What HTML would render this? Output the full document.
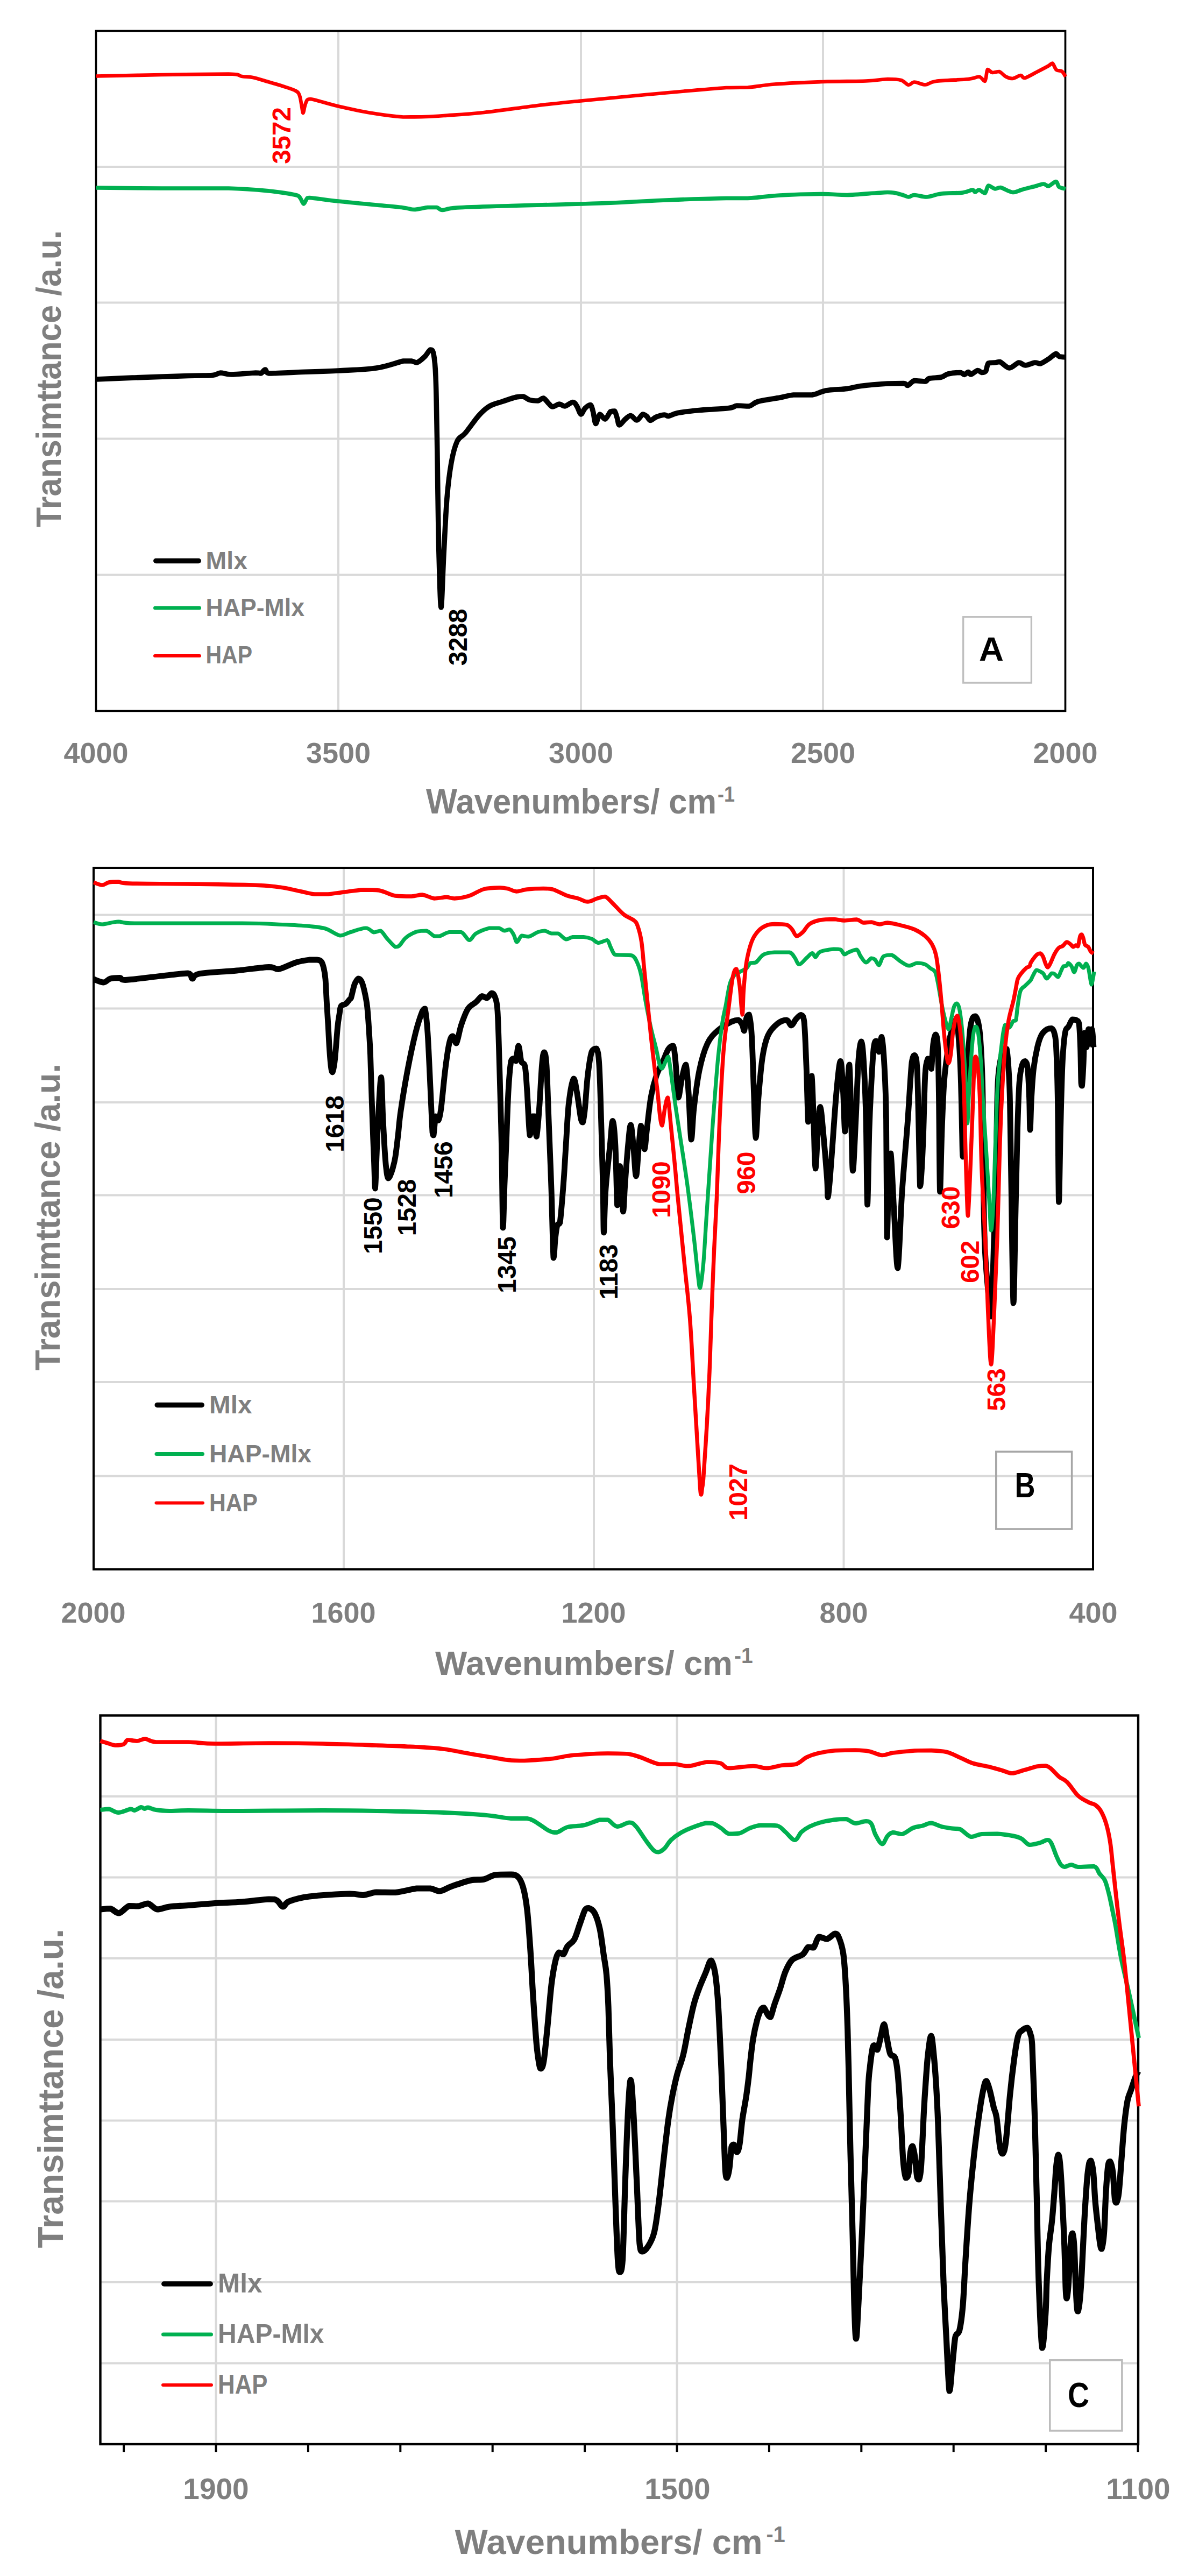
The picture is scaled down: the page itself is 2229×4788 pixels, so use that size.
<!DOCTYPE html>
<html><head><meta charset="utf-8"><title>FTIR spectra</title>
<style>html,body{margin:0;padding:0;background:#fff}svg{display:block}</style>
</head><body>
<svg width="2229" height="4788" viewBox="0 0 2229 4788" font-family='"Liberation Sans", Arial, sans-serif' font-weight="bold">
<line x1="629" y1="57.5" x2="629" y2="1321.5" stroke="#d9d9d9" stroke-width="4"/>
<line x1="1080" y1="57.5" x2="1080" y2="1321.5" stroke="#d9d9d9" stroke-width="4"/>
<line x1="1530" y1="57.5" x2="1530" y2="1321.5" stroke="#d9d9d9" stroke-width="4"/>
<line x1="178.5" y1="310" x2="1980.5" y2="310" stroke="#d9d9d9" stroke-width="4"/>
<line x1="178.5" y1="562.5" x2="1980.5" y2="562.5" stroke="#d9d9d9" stroke-width="4"/>
<line x1="178.5" y1="815.5" x2="1980.5" y2="815.5" stroke="#d9d9d9" stroke-width="4"/>
<line x1="178.5" y1="1068.5" x2="1980.5" y2="1068.5" stroke="#d9d9d9" stroke-width="4"/>
<rect x="178.5" y="57.5" width="1802" height="1264" fill="none" stroke="#000" stroke-width="3.7"/>
<path d="M178.5 705 C190.7 704.5 220.8 703.1 250 702 C279.2 700.9 325.4 699.3 350 698.5 C374.6 697.7 384.8 698.4 395 697.5 C405.2 696.6 404.1 693.3 410 693 C415.9 693 418.9 696 430 696 C441.1 696 465.6 693.3 475 693 C484.4 693 481.9 694 485 694 C488.1 693 490.4 687 493 687 C495.6 687 493 693.1 500 694 C509.7 694 528.1 692.9 550 692 C571.9 691.1 603.5 690.4 629 689 C654.5 687.6 679.4 687.1 700 684 C720.6 680.9 739 673.2 750 671 C761 671 760.8 671 765 671 C769.2 671.5 770.8 674 775 674 C779.2 672.6 785.8 666.6 790 662.5 C794.2 658.4 797.3 650.9 800 650 C802.7 650 804.3 650 806 657.5 C807.7 666 808.9 673.2 810 700 C811.1 726.8 811.8 777.6 812.5 815 C813.2 852.4 813.4 883.5 814 920 C814.6 956.5 815 994.5 816 1030 C817 1065.5 818.5 1129 820 1129 C821.5 1129 823.1 1064.7 825 1030 C826.9 995.3 828.6 953.9 831 925 C833.4 896.1 835.8 877.9 839 860 C842.2 842.1 845.6 829.4 850 820 C854.4 810.6 858.2 813.1 865 805 C871.8 796.9 882.4 781 890 772.5 C897.6 764 902.4 759.5 910 755 C917.6 750.5 926.5 748.9 935 746 C943.5 743.1 953.6 739.5 960 738 C966.4 737 968.2 737 972.5 737 C976.8 737.9 980.3 742.1 985 743.5 C989.7 744.9 995.8 745 1000 745 C1004.2 744.4 1006.6 740 1010 740 C1013.4 740.9 1017 747.3 1020 750 C1023 752.7 1024.1 755.8 1027.5 756 C1030.9 756 1036.2 751.2 1040 751 C1043.8 751 1045.8 755 1050 755 C1054.2 754.4 1061.2 747.5 1065 747.5 C1068.8 747.5 1070 751.2 1072.5 755 C1075 758.8 1077.5 769.3 1080 770 C1082.5 770 1084.5 762 1087.5 759 C1090.5 756 1095 752.5 1097.5 752.5 C1100 753.5 1100.8 759 1102.5 765 C1104.2 771 1105.4 786.6 1107.5 787.5 C1109.6 787.5 1112 771.4 1115 770 C1118 770 1121.6 779 1125 779 C1128.4 778.1 1132 767.5 1135 765 C1138 764 1140.4 764 1142.5 764 C1144.6 766.1 1146 773.1 1147.5 777.5 C1149 781.9 1149 789.7 1151.5 790 C1154 790 1158.9 782 1162.5 779 C1166.1 776 1168.8 772.5 1172.5 772.5 C1176.2 772.8 1180.2 781 1184 781 C1187.8 780.6 1191.9 771.2 1195 770 C1198.1 770 1200.1 772 1202.5 774 C1204.9 776 1206 781.3 1209 781.5 C1212 781.5 1215.6 776.8 1220 775 C1224.4 773.2 1231.2 771.3 1235 771 C1238.8 771 1238.2 773.5 1242.5 773.5 C1246.8 772.9 1250.2 769.4 1260 767.5 C1269.8 765.6 1283.8 764 1300 762.5 C1316.2 761 1343.1 759.9 1355 758.5 C1366.9 757.1 1363.6 754.6 1370 754 C1376.4 754 1385.7 755 1392.5 755 C1399.3 753.6 1400.2 748.7 1410 746 C1419.8 743.3 1439 741 1450 739 C1461 737 1464.8 734.9 1475 734 C1485.2 734 1499.8 734 1510 734 C1520.2 732.6 1524 728 1535 726 C1546 724 1564 723.9 1575 722.5 C1586 721.1 1587.2 719.1 1600 717.5 C1612.8 715.9 1636.4 713.9 1650 713 C1663.6 712.5 1673.6 712.5 1680 712.5 C1686.4 713.1 1684.1 716.5 1687.5 716.5 C1690.9 715.6 1694.5 708.8 1700 707.5 C1705.5 707.5 1715.3 709 1720 709 C1724.7 708.3 1722.4 704.9 1727.5 703.5 C1732.6 702.1 1744 702.4 1750 701 C1756 699.6 1756.5 696.4 1762.5 695 C1768.5 693.6 1779.9 692.5 1785 692.5 C1790.1 692.8 1790 696.5 1792.5 696.5 C1795 696.3 1797.9 691.6 1800 691.5 C1802.1 691.5 1802 696 1805 696 C1808 695.5 1814.1 689.1 1817.5 688.5 C1820.9 688.5 1822.5 692.2 1825 692.5 C1827.5 692.5 1830.4 692.5 1832.5 690 C1834.6 687 1834.7 677.7 1837.5 675 C1840.3 674 1845.3 674.4 1849 674 C1852.7 673.6 1854.3 672.5 1859 672.5 C1863.7 674.2 1870.5 683.7 1876.5 684 C1882.5 684 1888.9 674.9 1894 674 C1899.1 674 1901.4 679 1906.5 679 C1911.6 679 1919.3 674.5 1924 674 C1928.7 674 1929.8 676 1934 676 C1938.2 674.9 1944.1 670.6 1949 667.5 C1953.9 664.4 1959.6 658.4 1963 657.5 C1966.4 657.5 1965.9 661.4 1969 662.5 C1972.1 663.6 1979 663.7 1981 664" fill="none" stroke="#000" stroke-width="9.6" stroke-linejoin="round" stroke-linecap="butt"/>
<path d="M178.5 349 C199.2 349.2 258.1 349.8 300 350 C341.9 350 391 350 425 350 C459 350.9 478.8 352.9 500 355 C521.2 357.1 540.1 360.3 550 362.5 C558 364.7 555.5 365.2 558 368 C560.5 370.8 562.5 378.7 564.5 379 C566.5 379 568.2 372 570 370 C571.8 368 570 367.5 575 367.5 C585 368.2 607.8 371.7 629 374 C650.2 376.3 679.5 379 700 381 C720.5 383 737.6 384.6 749.5 386 C761.4 387.4 762.3 389.5 770 389.5 C777.7 389.4 787.9 386.2 795 385.5 C802.1 385.5 807.3 385.5 812 385.5 C816.7 386.4 816 390.4 822.5 390.5 C829 390.5 828.3 387.4 850 386 C871.7 384.6 910.9 383.7 950 382.5 C989.1 381.3 1046 380 1080 379 C1114 378 1121.1 377.8 1150 376.5 C1178.9 375.2 1216 372.9 1250 371.5 C1284 370.1 1326.2 369 1350 368.5 C1373.8 368.5 1373 368.5 1390 368.5 C1407 367.6 1426.4 364.4 1450 363 C1473.6 361.6 1507.8 360.6 1529 360.5 C1550.2 360.5 1554.4 362.5 1575 362.5 C1595.6 362 1633 357.7 1650 357.5 C1667 357.5 1668.4 360.1 1675 361.5 C1681.6 362.9 1684.8 365.8 1689 366 C1693.2 366 1694.3 362.5 1700 362.5 C1705.7 362.5 1714 366 1722.5 366 C1731 365.6 1738.5 361.4 1750 360 C1761.5 358.6 1780.2 359.2 1790 358 C1799.8 356.8 1803.6 353.2 1807.5 353 C1811.4 353 1810.9 357 1813 357 C1815.1 357 1816.9 353 1820 353 C1823.1 353.3 1828 359 1831 359 C1834 357.6 1834.3 346.4 1837.5 345 C1840.7 345 1846.2 350.4 1850 351 C1853.8 351 1854.5 348.5 1860 348.5 C1865.5 349.6 1875.7 356.8 1882.5 357.5 C1889.3 357.5 1892.8 354.5 1900 352.5 C1907.2 350.5 1918.2 347.8 1925 346 C1931.8 344.2 1935.9 342 1940 342 C1944.1 342 1945.1 346 1949 346 C1952.9 345.2 1959.6 337.5 1963 337.5 C1966.4 337.8 1965.9 345.2 1969 347.5 C1972.1 349.8 1979 350.4 1981 351" fill="none" stroke="#00b050" stroke-width="7.6" stroke-linejoin="round" stroke-linecap="butt"/>
<path d="M178.5 141.5 C199.2 141.1 258.1 139.7 300 139 C341.9 138.3 399.5 137.5 425 137.5 C450 138 442.4 140.9 450 142 C457.6 143.1 461.5 142.2 470 144 C478.5 145.8 490.6 149.8 500 152.5 C509.4 155.2 516.5 157.2 525 160 C533.5 162.8 544.6 165.9 550 169 C555.4 172.1 555.1 173.1 557 178 C558.9 182.9 559.9 192.6 561 198 C562.1 203.4 562.5 210 563.5 210 C564.5 209.7 565.7 200.1 567 196 C568.3 191.9 569.3 188 571 186 C572.7 184 573.8 184 577 184 C580.2 184.2 581.2 184.7 590 187 C598.8 189.3 612 193.6 629 197.5 C646 201.4 669.5 206.6 690 210 C710.5 213.4 732.5 216.3 749.5 217.5 C766.5 217.5 777.2 217.4 790 217 C802.8 216.6 806.3 216.4 825 215 C843.7 213.6 870.2 212.2 900 209 C929.8 205.8 969.4 199.7 1000 196 C1030.6 192.3 1046 190.9 1080 187.5 C1114 184.1 1154.1 180.2 1200 176 C1245.9 171.8 1317.7 165.3 1350 163 C1382.3 162.5 1374.7 163 1390 162.5 C1405.3 161.4 1416.4 158.3 1440 156.5 C1463.6 154.7 1500.1 153 1529 152 C1557.9 151 1589.4 151.3 1610 150.5 C1630.6 149.7 1639 147.3 1650 147 C1661 147 1668.4 147.1 1675 149 C1681.6 150.9 1684.8 157.4 1689 158 C1693.2 158 1694.7 152.6 1700 152.5 C1705.3 152.5 1713.2 157.5 1720 157.5 C1726.8 157.2 1726.4 152.8 1740 151 C1753.6 149.2 1786.4 148.4 1800 147 C1813.6 145.6 1814.7 142.5 1820 142.5 C1825.3 143.2 1828.3 151 1831 151 C1833.7 148.7 1833.6 131.7 1836 129 C1838.4 129 1841.3 134.3 1845 135 C1848.7 135 1853.2 133 1857.5 133 C1861.8 134.3 1865.8 140.3 1870 142.5 C1874.2 144.7 1877.8 146 1882.5 146 C1887.2 145.6 1893.7 140.2 1897.5 140 C1901.3 140 1899.5 145 1905 145 C1910.5 143.7 1922.5 136.3 1930 132.5 C1937.5 128.7 1944.5 125 1949 122.5 C1953.5 120 1954 117.5 1956.5 117.5 C1959 118.8 1961 127.5 1964 130 C1967 132.5 1971.1 130.4 1974 132.5 C1976.9 134.6 1979.8 140.8 1981 142.5" fill="none" stroke="#ff0000" stroke-width="6.7" stroke-linejoin="round" stroke-linecap="butt"/>
<text transform="translate(540 252) rotate(-90)" text-anchor="middle" font-size="47.5" fill="#ff0000">3572</text>
<text transform="translate(867.5 1184.5) rotate(-90)" text-anchor="middle" font-size="47.5" fill="#000">3288</text>
<line x1="289.8" y1="1042.5" x2="369.2" y2="1042.5" stroke="#000" stroke-width="9.5" stroke-linecap="round"/>
<text x="382.5" y="1057.5" text-anchor="start" font-size="47" fill="#7f7f7f" textLength="77.5" lengthAdjust="spacingAndGlyphs">Mlx</text>
<line x1="288.5" y1="1130" x2="370.5" y2="1130" stroke="#00b050" stroke-width="7" stroke-linecap="round"/>
<text x="382.5" y="1145" text-anchor="start" font-size="47" fill="#7f7f7f" textLength="183.5" lengthAdjust="spacingAndGlyphs">HAP-Mlx</text>
<line x1="288" y1="1219" x2="371" y2="1219" stroke="#ff0000" stroke-width="6" stroke-linecap="round"/>
<text x="382.5" y="1232.5" text-anchor="start" font-size="47" fill="#7f7f7f" textLength="86.5" lengthAdjust="spacingAndGlyphs">HAP</text>
<text x="178.5" y="1417.5" text-anchor="middle" font-size="54" fill="#7f7f7f">4000</text>
<text x="629" y="1417.5" text-anchor="middle" font-size="54" fill="#7f7f7f">3500</text>
<text x="1080" y="1417.5" text-anchor="middle" font-size="54" fill="#7f7f7f">3000</text>
<text x="1530" y="1417.5" text-anchor="middle" font-size="54" fill="#7f7f7f">2500</text>
<text x="1980.5" y="1417.5" text-anchor="middle" font-size="54" fill="#7f7f7f">2000</text>
<text x="792" y="1512" font-size="64" fill="#7f7f7f" textLength="540" lengthAdjust="spacingAndGlyphs">Wavenumbers/ cm</text>
<text x="1334" y="1490" font-size="41" fill="#7f7f7f" textLength="32" lengthAdjust="spacingAndGlyphs">-1</text>
<text transform="translate(113.2 980) rotate(-90)" font-size="65" fill="#7f7f7f" textLength="552" lengthAdjust="spacingAndGlyphs">Transimttance /a.u.</text>
<rect x="1790.7" y="1146.7" width="126.7" height="122.4" fill="#fff" stroke="#bfbfbf" stroke-width="3.3"/>
<text x="1843" y="1227.7" text-anchor="middle" font-size="63.5" fill="#000">A</text>
<line x1="639" y1="1613" x2="639" y2="2917" stroke="#d9d9d9" stroke-width="4"/>
<line x1="1104" y1="1613" x2="1104" y2="2917" stroke="#d9d9d9" stroke-width="4"/>
<line x1="1568.5" y1="1613" x2="1568.5" y2="2917" stroke="#d9d9d9" stroke-width="4"/>
<line x1="174" y1="1700.5" x2="2032" y2="1700.5" stroke="#d9d9d9" stroke-width="4"/>
<line x1="174" y1="1874.5" x2="2032" y2="1874.5" stroke="#d9d9d9" stroke-width="4"/>
<line x1="174" y1="2049" x2="2032" y2="2049" stroke="#d9d9d9" stroke-width="4"/>
<line x1="174" y1="2221.5" x2="2032" y2="2221.5" stroke="#d9d9d9" stroke-width="4"/>
<line x1="174" y1="2396" x2="2032" y2="2396" stroke="#d9d9d9" stroke-width="4"/>
<line x1="174" y1="2569" x2="2032" y2="2569" stroke="#d9d9d9" stroke-width="4"/>
<line x1="174" y1="2743.5" x2="2032" y2="2743.5" stroke="#d9d9d9" stroke-width="4"/>
<rect x="174" y="1613" width="1858" height="1304" fill="none" stroke="#000" stroke-width="4"/>
<path d="M174 1820 C177.1 1821 187.2 1826 192.5 1826 C197.8 1825.8 199.9 1820.4 205 1819 C210.1 1817.6 217.8 1817.5 222.5 1817.5 C227.2 1817.9 222.5 1821.5 232.5 1821.5 C245.7 1820.9 280 1816.1 300 1814 C320 1811.9 340.2 1809 350 1809 C357.5 1809.8 354.1 1818.8 357.5 1819 C360.9 1819 357.5 1812.5 370 1810 C384 1807.5 417.9 1806.1 440 1804 C462.1 1801.9 486.8 1797.9 500 1797.5 C513.2 1797.5 509 1801.5 517.5 1801.5 C526 1800.1 540.2 1792 550 1789 C559.8 1786 568.2 1784.8 575 1784 C581.8 1784 586.2 1784 590 1784 C593.8 1784.6 595.5 1784.8 597.5 1787.5 C599.5 1790.2 600.7 1794.5 602 1800 C603.3 1805.5 604.1 1809 605 1820 C605.9 1831 606.6 1850.5 607.5 1865 C608.4 1879.5 609.1 1890.5 610 1905 C610.9 1919.5 611.6 1937.2 612.5 1950 C613.4 1962.8 614.1 1972.7 615 1980 C615.9 1987.3 616.7 1993 618 1993 C619.3 1991.3 620.9 1984.1 622.5 1970 C624.1 1955.9 626.1 1924.5 627.5 1910 C628.9 1895.5 629.9 1891.8 631 1885 C632.1 1878.2 632 1873.2 634 1870 C636 1866.8 639.8 1868.1 642.5 1866 C645.2 1863.9 648.3 1859.4 650 1857.5 C651.7 1855.6 651.2 1857.5 652.5 1855 C653.8 1851.2 656.2 1839.7 657.5 1835 C658.8 1830.3 658.6 1830.2 660 1827.5 C661.4 1824.8 664 1819.6 666 1819 C668 1819 670.1 1820.4 672 1824 C673.9 1827.6 675.2 1832.2 677 1840 C678.8 1847.8 681 1857.2 682.5 1870 C684 1882.8 685 1899.7 686 1915 C687 1930.3 687.6 1938.8 688.5 1960 C689.4 1981.2 690.1 2014.5 691 2040 C691.9 2065.5 692.7 2089.6 693.5 2110 C694.3 2130.4 694.8 2143.2 695.5 2160 C696.2 2176.8 696.7 2209 697.5 2209 C698.3 2207.3 699.1 2171.9 700 2150 C700.9 2128.1 701.6 2105.1 703 2080 C704.4 2054.9 707 2002.5 708.5 2002.5 C710 2002.5 710.7 2054.9 712 2080 C713.3 2105.1 714.8 2133 716 2150 C717.2 2167 718.1 2173.2 719 2180 C719.9 2186.8 720.5 2189 721.5 2190 C722.5 2190 723.6 2189.1 725 2186 C726.4 2182.9 728.3 2178.1 730 2172 C731.7 2165.9 733.3 2160.5 735 2150 C736.7 2139.5 738.3 2124.4 740 2110 C741.7 2095.6 742 2085.4 745 2065 C748 2044.6 752.8 2014.7 757.5 1990 C762.2 1965.3 767.8 1938.7 772.5 1920 C777.2 1901.3 782 1887.7 785 1880 C788 1875 788.3 1875 790 1875 C791.7 1881.8 793.3 1895.3 795 1920 C796.7 1944.7 798.5 1988.5 800 2020 C801.5 2051.4 803 2089.7 804 2105 C805 2110 805 2110 806 2110 C807 2104.9 808.5 2079.7 810 2075 C811.5 2075 813.3 2082.5 815 2082.5 C816.7 2079.9 817.9 2075.7 820 2060 C822.1 2044.3 825 2010.4 827.5 1990 C830 1969.6 832.6 1950.9 835 1940 C837.4 1929.1 839.2 1926.2 841.5 1926 C843.8 1926 845.8 1939 848.5 1939 C851.2 1935.4 853.8 1915.9 857.5 1905 C861.2 1894.1 865.3 1882.2 870 1875 C874.7 1867.8 880.6 1866.5 885 1862.5 C889.4 1858.5 892.6 1852.8 896 1851.5 C899.4 1851.5 901.9 1855 905 1855 C908.1 1854.1 911.5 1846.4 914 1846 C916.5 1846 918.1 1846.7 920 1852.5 C921.9 1858.3 923.6 1858.3 925 1880 C926.4 1901.7 927.2 1937.5 928.5 1980 C929.8 2022.5 931.4 2078.7 932.5 2130 C933.6 2181.3 934.1 2270.1 935 2282 C935.9 2282 937 2225.8 938 2200 C939 2174.2 939.8 2158.9 941 2130 C942.2 2101.1 943.5 2056.8 945 2030 C946.5 2003.2 948.3 1983.1 950 1972.5 C951.7 1967.5 953.5 1967.6 955 1967.5 C956.5 1967.5 957.5 1972 959 1972 C960.5 1968 962.3 1944 964 1944 C965.7 1944.1 967 1966 969 1972.5 C971 1979 974.1 1972.7 976 1982.5 C977.9 1992.3 978.5 2008.3 980 2030 C981.5 2051.7 983.3 2102.3 985 2110 C986.7 2110 988.5 2080.9 990 2075 C991.5 2075 992.7 2075 994 2075 C995.3 2081.4 996.1 2112.5 997.5 2112.5 C998.9 2109.9 1000.8 2082.5 1002.5 2060 C1004.2 2037.5 1006 1997.7 1007.5 1980 C1009 1962.3 1010.1 1956 1011.5 1956 C1012.9 1956 1014.6 1958.9 1016 1980 C1017.4 2001.1 1018.5 2040.9 1020 2080 C1021.5 2119.1 1023.5 2166.1 1025 2210 C1026.5 2253.9 1027.7 2322.7 1029 2338 C1030.3 2338 1031.3 2310.3 1032.5 2300 C1033.7 2289.7 1034.6 2282.2 1036 2277.5 C1037.4 2272.8 1039 2277.5 1041 2272.5 C1043 2259.3 1045.6 2224.2 1047.5 2200 C1049.4 2175.8 1050.3 2155.5 1052 2130 C1053.7 2104.5 1055 2071.2 1057.5 2050 C1060 2028.8 1064 2008.4 1066.5 2005 C1069 2005 1070.2 2017.2 1072.5 2030 C1074.8 2042.8 1078.1 2070.5 1080 2080 C1081.9 2086 1082.2 2086 1083.5 2086 C1084.8 2082.6 1086 2074.6 1087.5 2060 C1089 2045.4 1090.4 2017.8 1092.5 2000 C1094.6 1982.2 1097.2 1963.7 1100 1955 C1102.8 1949 1106.6 1949 1109 1949 C1111.4 1953.2 1112.6 1957.7 1114 1980 C1115.4 2002.3 1116.3 2041 1117.5 2080 C1118.7 2119 1120.2 2173.6 1121 2209.5 C1121.8 2245.4 1121.7 2290.9 1122.5 2291 C1123.3 2291 1124 2237.4 1126 2210 C1128 2182.6 1131.8 2151.5 1134 2130 C1136.2 2108.5 1137.3 2083.5 1139 2083.5 C1140.7 2083.5 1142.6 2103.4 1144 2130 C1145.4 2156.6 1146.5 2228.1 1147.5 2240 C1148.5 2240 1149.2 2212.3 1150 2200 C1150.8 2187.7 1151.7 2167.5 1152.5 2167.5 C1153.3 2167.5 1154 2185.6 1155 2200 C1156 2214.4 1157.3 2252 1158.5 2252 C1159.7 2252 1160.5 2220.7 1162 2200 C1163.5 2179.3 1165.7 2148.5 1167.5 2130 C1169.3 2111.5 1170.8 2091 1172.5 2091 C1174.2 2091 1175.8 2113.8 1177.5 2130 C1179.2 2146.2 1180.8 2186 1182.5 2186 C1184.2 2186 1186 2145.9 1187.5 2130 C1189 2114.1 1190.2 2095.9 1191.5 2092.5 C1192.8 2092.5 1193.8 2102.6 1195 2110 C1196.2 2117.4 1197.2 2136 1198.5 2136 C1199.8 2134.3 1200.5 2116.3 1202.5 2100 C1204.5 2083.7 1207 2057 1210 2040 C1213 2023 1216.2 2011.5 1220 2000 C1223.8 1988.5 1228.7 1981 1232.5 1972.5 C1236.3 1964 1239.3 1954.8 1242.5 1950 C1245.7 1945.2 1249.2 1944 1251.5 1944 C1253.8 1948.2 1254.4 1958.7 1256 1975 C1257.6 1991.3 1259 2034.9 1261 2040 C1263 2040 1265.1 2015.4 1267.5 2005 C1269.9 1994.6 1272.9 1979 1275 1979 C1277.1 1983.2 1278.3 2006.4 1280 2030 C1281.7 2053.6 1283.3 2112.9 1285 2118 C1286.7 2118 1287.5 2081.8 1290 2060 C1292.5 2038.2 1295.8 2010.4 1300 1990 C1304.2 1969.6 1309 1952.8 1315 1940 C1321 1927.2 1327.3 1922 1335 1915 C1342.7 1908 1353.6 1902.2 1360 1899 C1366.4 1896 1369.1 1896 1372.5 1896 C1375.9 1897 1378.1 1901.6 1380 1905 C1381.9 1908.4 1382.2 1916 1383.5 1916 C1384.8 1914 1386 1898.1 1387.5 1893 C1389 1887.9 1390.8 1886 1392.5 1886 C1394.2 1891.4 1396 1900.5 1397.5 1925 C1399 1949.5 1400.2 1997.7 1401.5 2030 C1402.8 2062.3 1403.6 2113.3 1405 2115 C1406.4 2115 1407.9 2065.5 1410 2040 C1412.1 2014.5 1414.5 1984.5 1417.5 1965 C1420.5 1945.5 1422.8 1935.5 1427.5 1925 C1432.2 1914.5 1439 1907.9 1445 1903 C1451 1898.1 1458.1 1896 1462.5 1896 C1466.9 1896.5 1468 1906 1471 1906 C1474 1905.7 1476.9 1897.3 1480 1894 C1483.1 1890.7 1486.5 1886.5 1489 1886.5 C1491.5 1887.3 1493.3 1886.5 1495 1899 C1496.7 1914.9 1497.7 1948.4 1499 1980 C1500.3 2011.6 1501.5 2074.8 1502.5 2085 C1503.5 2085 1503.9 2054.4 1505 2040 C1506.1 2025.5 1507.7 2000 1509 2000 C1510.3 2006.8 1511.3 2050.8 1512.5 2080 C1513.7 2109.2 1514.6 2170.3 1516 2172 C1517.4 2172 1519.5 2109.5 1521 2090 C1522.5 2070.5 1523.5 2057.5 1525 2057.5 C1526.5 2059.2 1527.9 2077.5 1530 2100 C1532.1 2122.5 1536 2168.8 1537.5 2190 C1539 2211.2 1538.1 2225 1539 2225 C1539.9 2225 1541.6 2206.2 1543 2190 C1544.4 2173.8 1545.5 2157.2 1547.5 2130 C1549.5 2102.8 1552.5 2056.8 1555 2030 C1557.5 2003.2 1560.4 1972.5 1562.5 1972.5 C1564.6 1972.5 1566.1 2007.8 1567.5 2030 C1568.9 2052.2 1569.7 2103 1571 2103 C1572.3 2103 1573.6 2051.1 1575 2030 C1576.4 2008.9 1577.7 1979 1579 1979 C1580.3 1987.5 1581.4 2046.5 1582.5 2080 C1583.6 2113.5 1584.1 2176 1585.5 2176 C1586.9 2176 1589.2 2115 1591 2080 C1592.8 2045 1594.2 1994.5 1596 1970 C1597.8 1945.5 1599.8 1936 1601.5 1936 C1603.2 1937.7 1604.6 1955.5 1606 1980 C1607.4 2004.5 1608.9 2036 1610 2080 C1611.1 2124 1611.5 2235.6 1612.5 2239 C1613.5 2239 1614.9 2135.5 1616 2100 C1617.1 2064.5 1617.6 2055.5 1619 2030 C1620.4 2004.5 1622.3 1966.2 1624 1950 C1625.7 1935 1627.3 1935 1629 1935 C1630.7 1935.8 1632.3 1955 1634 1955 C1635.7 1953.7 1637.3 1927.5 1639 1927.5 C1640.7 1931.8 1642.6 1954.1 1644 1980 C1645.4 2005.9 1646.7 2025.6 1647.5 2080 C1648.3 2134.4 1648.2 2279.6 1649 2300 C1649.8 2300 1650.8 2226.5 1652 2200 C1653.2 2173.5 1654.3 2144 1656 2144 C1657.7 2152.5 1659.8 2213.8 1662 2250 C1664.2 2286.2 1666.5 2357 1669 2357 C1671.5 2351.1 1673.9 2260.4 1677 2215 C1680.1 2169.6 1683.9 2130.8 1687 2090 C1690.1 2049.2 1692.7 1996.8 1695 1975 C1697.3 1961.5 1698.8 1961.5 1700.5 1961.5 C1702.2 1963.5 1703.7 1963 1705 1986.5 C1706.3 2010 1707.1 2062.9 1708 2100 C1708.9 2137.1 1709.6 2192.6 1710.5 2205 C1711.4 2205 1712.5 2189.7 1713.5 2173 C1714.5 2156.3 1715.4 2137 1716.5 2107 C1717.6 2077 1718.6 2020.1 1720 1996.5 C1721.4 1972.9 1723.3 1972.5 1725 1968 C1726.7 1968 1728.9 1968 1730 1970 C1731.1 1973.1 1730.7 1986.5 1731.5 1986.5 C1732.3 1981.4 1733.6 1950.8 1735 1940 C1736.4 1929.2 1738.1 1923 1739.5 1923 C1740.9 1924.1 1742.5 1926.6 1743.5 1946.5 C1744.5 1966.4 1744.8 1994.4 1745.5 2040 C1746.2 2085.6 1746.6 2204.8 1747.5 2215 C1748.4 2215 1749.7 2134.3 1751 2100 C1752.3 2065.7 1753.5 2035.7 1755 2013 C1756.5 1990.3 1758 1981.2 1760 1966.5 C1762 1951.8 1764.2 1937 1766.5 1926.5 C1768.8 1916 1771.5 1910.4 1773.5 1905 C1775.5 1899.6 1776.3 1895 1778 1895 C1779.7 1902.1 1782.1 1926.4 1783.5 1946.5 C1784.9 1966.6 1785.7 1986.9 1786.5 2013 C1787.3 2039.1 1787.9 2076.7 1788.5 2100 C1789.1 2123.3 1789.2 2150 1790 2150 C1790.8 2144.9 1791.6 2098.9 1793 2070 C1794.4 2041.1 1796.7 2006.7 1798.5 1980 C1800.3 1953.3 1801.8 1928 1803.5 1913 C1805.2 1898 1806.8 1895.6 1808.5 1891.5 C1810.2 1889 1811.8 1889 1813.5 1889 C1815.2 1890.4 1817 1893 1818.5 1900 C1820 1907 1821.1 1910.8 1822.5 1930 C1823.9 1949.2 1825.7 1984.1 1826.5 2013 C1827.3 2041.9 1827.1 2059.7 1827.5 2100 C1827.9 2140.3 1828.3 2210.9 1829 2250 C1829.7 2289.1 1830.1 2304.5 1831.5 2330 C1832.9 2355.5 1835.1 2380.1 1837 2400 C1838.9 2419.9 1840.6 2447 1842.5 2447 C1844.4 2430 1846.4 2350.5 1848 2300 C1849.6 2249.5 1850.8 2198.8 1852 2150 C1853.2 2101.2 1853.4 2044.8 1855 2013 C1856.6 1981.2 1859.3 1973.7 1861.5 1963 C1863.7 1952.3 1866.3 1952.2 1868 1950 C1869.7 1950 1870.3 1950 1871.5 1950 C1872.7 1956.2 1874 1970.1 1875 1986.5 C1876 2002.9 1876.7 2010.2 1877.5 2046.5 C1878.3 2082.8 1878.9 2136.2 1880 2200 C1881.1 2263.8 1882.6 2413.5 1884 2422 C1885.4 2422 1886.7 2304.7 1888 2250 C1889.3 2195.3 1890.3 2140.3 1891.5 2100 C1892.7 2059.7 1893.6 2033.4 1895 2013 C1896.4 1992.6 1898.1 1986.9 1900 1980 C1901.9 1973.1 1904.2 1972.5 1906 1972.5 C1907.8 1973.6 1909.2 1975 1910.5 1986.5 C1911.8 1998 1912.7 2020.7 1913.5 2040 C1914.3 2059.3 1914.3 2100 1915 2100 C1915.7 2100 1916.4 2059.3 1917.5 2040 C1918.6 2020.7 1919.6 2002.4 1921.5 1986.5 C1923.4 1970.6 1926 1957.3 1928.5 1946.5 C1931 1935.7 1933.4 1928.7 1936.5 1923 C1939.6 1917.3 1943.4 1915 1946.5 1913 C1949.6 1911.5 1952.7 1911.5 1955 1911.5 C1957.3 1912.7 1958.6 1914 1960 1920 C1961.4 1926 1962.4 1924.4 1963.5 1946.5 C1964.6 1968.6 1965.7 2001.1 1966.5 2050 C1967.3 2098.9 1967.7 2225.5 1968.5 2234 C1969.3 2234 1970.4 2143.2 1971.5 2100 C1972.6 2056.8 1973.6 2010.6 1975 1980 C1976.4 1949.4 1978 1932.2 1980 1920 C1982 1908 1984.2 1912.2 1986.5 1908 C1988.8 1903.8 1991 1897 1993.5 1895 C1996 1895 1999.4 1895.1 2001.5 1896.5 C2003.6 1897.9 2004.8 1896.5 2006 1903 C2007.2 1911.5 2007.8 1927.8 2008.5 1946.5 C2009.2 1965.2 2009.5 2000.8 2010 2013 C2010.5 2018 2010.8 2018 2011.5 2018 C2012.2 2012.4 2013.2 1996.7 2014 1980 C2014.8 1963.3 2015.5 1925.7 2016.5 1920 C2017.5 1920 2018.8 1946.5 2020 1946.5 C2021.2 1945.3 2022.4 1914.1 2023.5 1913 C2024.6 1913 2025.4 1940 2026.5 1940 C2027.6 1940 2028.9 1913 2030 1913 C2031.1 1914.1 2032.5 1940.8 2033 1946.5" fill="none" stroke="#000" stroke-width="10.8" stroke-linejoin="round" stroke-linecap="butt"/>
<path d="M174 1714 C176.7 1714.7 182.2 1718 190 1718 C197.8 1717.8 209.8 1713.3 220 1713 C230.2 1713 220 1715.5 250 1716 C289.1 1716 403.2 1716 450 1716 C496.8 1716.4 503.8 1717.6 525 1718.5 C546.2 1719.4 561.4 1720.2 575 1721.5 C588.6 1722.8 595.2 1723 605 1726 C614.8 1729 624.9 1737.8 632.5 1739 C640.1 1739 641.9 1735.4 650 1733 C658.1 1730.6 672.4 1725 680 1725 C687.6 1725 690.3 1732.2 695 1733 C699.7 1733 703.2 1730 707.5 1730 C711.8 1732 715.3 1739.9 720 1745 C724.7 1750.1 731.2 1757.9 735 1760 C738.8 1760 739.1 1760 742.5 1757.5 C745.9 1754.5 749.5 1746.9 755 1742.5 C760.5 1738.1 768.6 1733.6 775 1731.5 C781.4 1730 787 1730 792.5 1730 C798 1731.4 803.2 1738.3 807.5 1740 C811.8 1740 812.8 1740 817.5 1740 C822.2 1738.7 828.2 1733.8 835 1732.5 C841.8 1732.5 851.1 1732.5 857.5 1732.5 C863.9 1735 867.8 1747.1 872.5 1747.5 C877.2 1747.5 878.6 1738.8 885 1735 C891.4 1731.2 902.8 1726.7 910 1725 C917.2 1725 922.8 1725 927.5 1725 C932.2 1725.8 934.1 1729.6 937.5 1730 C940.9 1730 944.5 1727.5 947.5 1727.5 C950.5 1728.8 952.7 1733.5 955 1737.5 C957.3 1741.5 958.5 1750.7 961 1751 C963.5 1751 966.3 1740.7 970 1739 C973.7 1739 977.4 1741 982.5 1741 C987.6 1739.9 994.9 1734.4 1000 1732.5 C1005.1 1730.6 1008.2 1730 1012.5 1730 C1016.8 1730.4 1020.8 1734.2 1025 1735 C1029.2 1735 1032.8 1735 1037.5 1735 C1042.2 1736.9 1047.8 1744.9 1052.5 1746 C1057.2 1746 1059.5 1742.3 1065 1741.5 C1070.5 1741.5 1079 1741.5 1085 1741.5 C1091 1742.1 1095.3 1743.1 1100 1745 C1104.7 1746.9 1107.7 1752.1 1112.5 1752.5 C1117.3 1752.5 1124.7 1747.5 1128.5 1747.5 C1132.3 1748.8 1132.6 1755.5 1135 1760 C1137.4 1764.5 1139.5 1771.5 1142.5 1774 C1145.5 1775 1147 1774.7 1152.5 1775 C1158 1775.3 1169.5 1775 1175 1776 C1180.5 1778.5 1182 1783.4 1185 1790 C1188 1796.6 1190 1803.1 1192.5 1815 C1195 1826.9 1197 1843.8 1200 1860 C1203 1876.2 1206.6 1894.7 1210 1910 C1213.4 1925.3 1217.3 1938.4 1220 1950 C1222.7 1961.6 1224.1 1971.9 1226 1978 C1227.9 1984.1 1229 1986 1231 1986 C1233 1985.1 1235.5 1976.2 1237.5 1972.5 C1239.5 1968.8 1240.8 1964 1242.5 1964 C1244.2 1967.8 1245.4 1980.4 1247.5 1995 C1249.6 2009.6 1252.5 2032.2 1255 2050 C1257.5 2067.8 1258.7 2074.5 1262.5 2100 C1266.3 2125.5 1272.8 2166 1277.5 2200 C1282.2 2234 1286.6 2271.1 1290 2300 C1293.4 2328.9 1295.5 2354 1297.5 2370 C1299.5 2386 1299.8 2394 1301.5 2394 C1303.2 2390.6 1305.6 2370.2 1307.5 2350 C1309.4 2329.8 1310.8 2300.5 1312.5 2275 C1314.2 2249.5 1315.4 2231.4 1317.5 2200 C1319.6 2168.6 1322 2129.9 1325 2090 C1328 2050.1 1331.9 1997.3 1335 1965 C1338.1 1932.7 1340.6 1916.2 1343 1900 C1345.4 1883.8 1346.6 1882.2 1349 1870 C1351.4 1857.8 1354.1 1837.9 1357 1828 C1359.9 1818.1 1362.8 1815.7 1366 1812 C1369.2 1808.3 1372.3 1808 1376 1806 C1379.7 1804 1384.3 1802.7 1387.5 1800 C1390.7 1797.3 1392 1791.9 1395 1790 C1398 1789 1400.8 1790 1405 1789 C1409.2 1786.3 1414 1777.2 1420 1774 C1426 1770.8 1431.9 1770.7 1440 1770 C1448.1 1770 1461.1 1770 1467.5 1770 C1473.9 1771.7 1474.4 1776.2 1477.5 1780 C1480.6 1783.8 1482.2 1792.5 1486 1792.5 C1489.8 1792.5 1495.9 1783.6 1500 1780 C1504.1 1776.4 1507.3 1771.7 1510 1771.5 C1512.7 1771.5 1513.5 1779 1516 1779 C1518.5 1778.6 1519.2 1771.5 1525 1769 C1530.8 1766.5 1543.6 1764.7 1550 1764 C1556.4 1764 1559.1 1764 1562.5 1765 C1565.9 1766.7 1567.5 1773.2 1570 1774 C1572.5 1774 1573.7 1771.5 1577.5 1770 C1581.3 1768.5 1588.7 1765 1592.5 1765 C1596.3 1766.3 1597 1773.4 1600 1777.5 C1603 1781.6 1606.6 1788.4 1610 1789 C1613.4 1789 1617.1 1781.8 1620 1781 C1622.9 1781 1624.6 1781.8 1627 1784 C1629.4 1786.2 1631.4 1794 1634 1794 C1636.6 1792.9 1638.5 1780.7 1642.5 1777.5 C1646.5 1775 1652 1775 1657.5 1775 C1663 1776.7 1669.5 1784.1 1675 1787.5 C1680.5 1790.9 1684.9 1794.6 1690 1795 C1695.1 1795 1699.9 1790.4 1705 1790 C1710.1 1790 1715.8 1790.8 1720 1792.5 C1724.2 1794.2 1726.9 1797.6 1730 1800 C1733.1 1802.4 1736.2 1802 1738.5 1806.5 C1740.8 1811 1741.5 1816.9 1743.5 1826.5 C1745.5 1836.1 1747.8 1851.7 1750 1863 C1752.2 1874.3 1754.2 1884.5 1756.5 1893 C1758.8 1901.5 1761.5 1913 1763.5 1913 C1765.5 1913 1766.8 1900.1 1768.5 1893 C1770.2 1885.9 1771.8 1876.3 1773.5 1871.5 C1775.2 1866.7 1776.8 1865 1778.5 1865 C1780.2 1865.6 1781.8 1866.8 1783.5 1875 C1785.2 1883.2 1786.8 1895.2 1788.5 1913 C1790.2 1930.8 1792.1 1958.4 1793.5 1980 C1794.9 2001.6 1795.7 2021.6 1796.5 2040 C1797.3 2058.4 1797.7 2088 1798.5 2088 C1799.3 2088 1800.2 2055.6 1801 2040 C1801.8 2024.4 1802.2 2015.2 1803.5 1996.5 C1804.8 1977.8 1806.8 1945 1808.5 1930 C1810.2 1915 1811.8 1909.7 1813.5 1908 C1815.2 1908 1816.8 1909 1818.5 1920 C1820.2 1931 1822.1 1952.6 1823.5 1973 C1824.9 1993.4 1825.3 2011.6 1827 2040 C1828.7 2068.4 1831.4 2106 1833.5 2140 C1835.6 2174 1838 2215 1839.5 2240 C1841 2265 1841.3 2287 1842.5 2287 C1843.7 2287 1845.2 2265 1846.5 2240 C1847.8 2215 1848.9 2172.3 1850 2140 C1851.1 2107.7 1851.9 2075 1853 2050 C1854.1 2025 1854.7 2013.4 1856.5 1993 C1858.3 1972.6 1861.5 1945 1863.5 1930 C1865.5 1915 1866.3 1908.4 1868.5 1905 C1870.7 1905 1874 1910 1876.5 1910 C1879 1908.8 1881.5 1900.3 1883.5 1898 C1885.5 1896.5 1887.1 1898 1888.5 1896.5 C1889.9 1892.2 1890.1 1882.3 1891.5 1873 C1892.9 1863.7 1894.5 1849 1897 1842 C1899.5 1835 1902.8 1835.4 1906 1832 C1909.2 1828.6 1913.6 1825.1 1916 1822 C1918.4 1818.9 1918.1 1817.2 1920 1814 C1921.9 1810.8 1924.3 1804.2 1927 1803 C1929.7 1803 1933.8 1805.8 1936 1807 C1938.2 1808.2 1938.3 1808 1940 1810 C1941.7 1812 1943.5 1819 1946 1819 C1948.5 1818.8 1952.6 1810.5 1955 1809 C1957.4 1809 1958 1809 1960 1810 C1962 1811.2 1965 1816 1967 1816 C1969 1815.3 1970.3 1809.4 1972 1806 C1973.7 1802.6 1975.1 1797.9 1977 1796 C1978.9 1795 1981.5 1796 1983 1795 C1984.5 1794 1984.5 1790 1986 1790 C1987.5 1790.2 1990.1 1793.1 1992 1796 C1993.9 1798.9 1995.3 1807 1997 1807 C1998.7 1806.7 2000.5 1796.7 2002 1794 C2003.5 1791.3 2004 1791 2006 1791 C2008 1791.8 2011.8 1799 2014 1799 C2016.2 1799 2017.5 1791.2 2019 1791 C2020.5 1791 2021.8 1794.1 2023 1798 C2024.2 1801.9 2025 1808.6 2026 1814 C2027 1819.4 2028 1829.3 2029 1830 C2030 1830 2031.2 1822.1 2032 1818 C2032.8 1813.9 2033.7 1808 2034 1806" fill="none" stroke="#00b050" stroke-width="7.2" stroke-linejoin="round" stroke-linecap="butt"/>
<path d="M174 1640 C176.7 1640.8 185.2 1645 190 1645 C194.8 1645 197.4 1641 202.5 1640 C207.6 1639 213.6 1639 220 1639 C226.4 1639.3 220 1641.3 240 1642 C262.1 1642.7 310.9 1642.5 350 1643 C389.1 1643.5 441.1 1644 470 1645 C498.9 1646 504.7 1647 520 1649 C535.3 1651 549 1654.8 560 1657 C571 1659.2 576.5 1661.2 585 1662 C593.5 1662 600.6 1662 610 1662 C619.4 1661.3 629 1659.4 640 1658 C651 1656.6 664 1654.5 675 1654 C686 1654 694.8 1654 705 1655 C715.2 1656.9 724.8 1663.1 735 1665 C745.2 1666 756.5 1666 765 1666 C773.5 1665.7 777.8 1663 785 1663 C792.2 1663.7 799.9 1669.2 807.5 1670 C815.1 1670 823.6 1667.5 830 1667.5 C836.4 1667.5 837.8 1670 845 1670 C852.2 1669.6 863.1 1668 872.5 1665 C881.9 1662 890.2 1655 900 1652.5 C909.8 1650 922.4 1650.1 930 1650 C937.6 1650 939.9 1650.8 945 1652 C950.1 1653.2 954 1656.8 960 1657 C966 1657 971.5 1653.9 980 1653 C988.5 1652.1 1001.9 1651.5 1010 1651.5 C1018.1 1651.5 1019.9 1651.5 1027.5 1653 C1035.2 1655.3 1046.9 1662.1 1055 1665 C1063.1 1667.9 1068.6 1668.1 1075 1670 C1081.4 1671.9 1086.5 1676 1092.5 1676 C1098.5 1676 1104.5 1671.6 1110 1670 C1115.5 1668.4 1119.9 1666.5 1125 1666.5 C1130.1 1668.2 1134 1674.3 1140 1680 C1146 1685.7 1153.6 1694.9 1160 1700 C1166.4 1705.1 1173.2 1706.6 1177.5 1710 C1181.8 1713.4 1182.5 1713.2 1185 1720 C1187.5 1726.8 1190.4 1736.4 1192.5 1750 C1194.6 1763.6 1195.8 1783 1197.5 1800 C1199.2 1817 1200.4 1828.8 1202.5 1850 C1204.6 1871.2 1207.5 1901.2 1210 1925 C1212.5 1948.8 1215.4 1972.2 1217.5 1990 C1219.6 2007.8 1220.9 2015.5 1222.5 2030 C1224.1 2044.5 1225.6 2064.5 1227 2075 C1228.4 2085.5 1229.5 2092 1231 2092 C1232.5 2089.4 1234.2 2068.8 1236 2060 C1237.8 2051.2 1239.5 2040 1241.5 2040 C1243.5 2046 1245.2 2072.9 1247.5 2095 C1249.8 2117.1 1252.9 2147.9 1255 2170 C1257.1 2192.1 1257 2194.4 1260 2225 C1263 2255.6 1268.7 2311.8 1272.5 2350 C1276.3 2388.2 1279.5 2411.8 1282.5 2450 C1285.5 2488.2 1287.5 2532.5 1290 2575 C1292.5 2617.5 1295.5 2667.7 1297.5 2700 C1299.5 2732.3 1300.5 2751.7 1301.5 2765 C1302.5 2778 1302.8 2778 1303.5 2778 C1304.2 2778 1304.8 2769.8 1305.5 2765 C1306.2 2760.2 1306.1 2765 1307.5 2750 C1308.9 2730.4 1312 2684 1314 2650 C1316 2616 1317.6 2584 1319 2550 C1320.4 2516 1321.1 2488.2 1322.5 2450 C1323.9 2411.8 1325.8 2363.2 1327.5 2325 C1329.2 2286.8 1330.8 2264.9 1332.5 2225 C1334.2 2185.1 1335.4 2135.9 1337.5 2090 C1339.6 2044.1 1342 1992.4 1345 1955 C1348 1917.6 1352 1893.8 1355 1870 C1358 1846.2 1360.1 1826.7 1362.5 1815 C1364.9 1803.3 1366.9 1801 1369 1801 C1371.1 1803.9 1373.1 1817.5 1375 1832 C1376.9 1846.5 1378.7 1884.6 1380 1886 C1381.3 1886 1381.2 1856.3 1382.5 1840 C1383.8 1823.7 1385 1805.3 1387.5 1790 C1390 1774.7 1393.7 1760.2 1397.5 1750 C1401.3 1739.8 1405.3 1735.1 1410 1730 C1414.7 1724.9 1419.9 1722.1 1425 1720 C1430.1 1717.9 1433.6 1717.7 1440 1717.5 C1446.4 1717.5 1457 1717.5 1462.5 1719 C1468 1720.7 1469.4 1723.9 1472.5 1727.5 C1475.6 1731.1 1477.6 1739.2 1481 1740 C1484.4 1740 1488.4 1736.3 1492.5 1732.5 C1496.6 1728.7 1499.5 1721.3 1505 1717.5 C1510.5 1713.7 1517.3 1711.5 1525 1710 C1532.7 1708.5 1542.3 1708.5 1550 1708.5 C1557.7 1708.7 1562.8 1710.9 1570 1711 C1577.2 1711 1586.5 1709 1592.5 1709 C1598.5 1709.7 1600.3 1714.2 1605 1715 C1609.7 1715 1614.9 1714 1620 1714 C1625.1 1714.5 1629.9 1717.8 1635 1718 C1640.1 1718 1643.2 1715 1650 1715 C1656.8 1715.3 1666.5 1717.9 1675 1720 C1683.5 1722.1 1692.3 1724.1 1700 1727.5 C1707.7 1730.9 1714.5 1735.3 1720 1740 C1725.5 1744.7 1729.1 1749 1732.5 1755 C1735.9 1761 1737.9 1765.7 1740 1775 C1742.1 1784.3 1743.3 1795.5 1745 1810 C1746.7 1824.5 1748.3 1841.3 1750 1860 C1751.7 1878.7 1753.3 1902.5 1755 1920 C1756.7 1937.5 1758.6 1953.5 1760 1963 C1761.4 1972.5 1762.2 1976 1763.5 1976 C1764.8 1975.5 1766.1 1969.5 1767.5 1960 C1768.9 1950.5 1770 1931.4 1771.5 1920 C1773 1908.6 1775.1 1898.4 1776.5 1893 C1777.9 1888 1778.7 1888 1780 1888 C1781.3 1890.4 1782.6 1897 1784 1907 C1785.4 1917 1786.8 1931.2 1788 1947 C1789.2 1962.8 1790.2 1980.8 1791 2000 C1791.8 2019.2 1792.3 2036.2 1793 2060 C1793.7 2083.8 1794.2 2112.3 1795 2140 C1795.8 2167.7 1796.7 2202.6 1797.5 2223 C1798.3 2243.4 1798.7 2260 1799.5 2260 C1800.3 2257.3 1801.3 2233 1802.5 2207 C1803.7 2181 1805.4 2135.4 1806.5 2107 C1807.6 2078.6 1808.2 2062.8 1809 2040 C1809.8 2017.2 1810.7 1985.9 1811.5 1973 C1812.3 1964 1813 1964 1814 1964 C1815 1965.2 1816.2 1967.1 1817.5 1980 C1818.8 1992.9 1820.2 2007.2 1821.5 2040 C1822.8 2072.8 1823.3 2128.8 1825 2173 C1826.7 2217.2 1829.5 2255.8 1831.5 2300 C1833.5 2344.2 1834.6 2392.9 1836.5 2433 C1838.4 2473.1 1840.5 2536 1842.5 2536 C1844.5 2536 1846.5 2473.1 1848.5 2433 C1850.5 2392.9 1852.3 2349.8 1854 2300 C1855.7 2250.2 1857.1 2184.2 1858.5 2140 C1859.9 2095.8 1860.8 2072.8 1862.5 2040 C1864.2 2007.2 1866.4 1971.3 1868.5 1947 C1870.6 1922.7 1872.4 1911.8 1875 1897 C1877.6 1882.2 1881.8 1869.7 1884 1860 C1886.2 1850.3 1886.6 1846.8 1888 1840 C1889.4 1833.2 1890.3 1825.1 1892 1820 C1893.7 1814.9 1895.3 1813.6 1898 1810 C1900.7 1806.4 1905.3 1801.4 1908 1799 C1910.7 1796.6 1912.5 1797.9 1914 1796 C1915.5 1794.1 1914.6 1791.7 1917 1788 C1919.4 1784.3 1925.1 1776.7 1928 1774 C1930.9 1772 1932.1 1772 1934 1772 C1935.9 1772.7 1937.3 1774.6 1939 1778 C1940.7 1781.4 1942.5 1788.6 1944 1792 C1945.5 1795.4 1946.5 1798 1948 1798 C1949.5 1797.7 1951 1794.1 1953 1790 C1955 1785.9 1957.5 1778.8 1960 1774 C1962.5 1769.2 1965.3 1764.7 1968 1762 C1970.7 1759.3 1973.5 1759.9 1976 1758 C1978.5 1756.1 1980.6 1751.5 1983 1751 C1985.4 1751 1988 1753.5 1990 1755 C1992 1756.5 1993.3 1759.7 1995 1760 C1996.7 1760 1998.5 1757.2 2000 1757 C2001.5 1757 2002.6 1759 2004 1759 C2005.4 1756.1 2006.8 1743.7 2008 1740 C2009.2 1737 2010 1737 2011 1737 C2012 1737.7 2013 1740.8 2014 1744 C2015 1747.2 2015.5 1753.3 2017 1756 C2018.5 1758.7 2021.1 1757.8 2023 1760 C2024.9 1762.2 2026.3 1767 2028 1769 C2029.7 1771 2032.2 1771.5 2033 1772" fill="none" stroke="#ff0000" stroke-width="7.4" stroke-linejoin="round" stroke-linecap="butt"/>
<text transform="translate(639 2088.8) rotate(-90)" text-anchor="middle" font-size="47.5" fill="#000">1618</text>
<text transform="translate(710 2278.2) rotate(-90)" text-anchor="middle" font-size="47.5" fill="#000">1550</text>
<text transform="translate(772.5 2244.5) rotate(-90)" text-anchor="middle" font-size="47.5" fill="#000">1528</text>
<text transform="translate(841 2174.2) rotate(-90)" text-anchor="middle" font-size="47.5" fill="#000">1456</text>
<text transform="translate(959 2350.8) rotate(-90)" text-anchor="middle" font-size="47.5" fill="#000">1345</text>
<text transform="translate(1148 2364) rotate(-90)" text-anchor="middle" font-size="47.5" fill="#000">1183</text>
<text transform="translate(1246 2211.2) rotate(-90)" text-anchor="middle" font-size="47.5" fill="#ff0000">1090</text>
<text transform="translate(1404 2180.2) rotate(-90)" text-anchor="middle" font-size="47.5" fill="#ff0000">960</text>
<text transform="translate(1388.5 2773.2) rotate(-90)" text-anchor="middle" font-size="47.5" fill="#ff0000">1027</text>
<text transform="translate(1783.5 2244.5) rotate(-90)" text-anchor="middle" font-size="47.5" fill="#ff0000">630</text>
<text transform="translate(1820 2345.2) rotate(-90)" text-anchor="middle" font-size="47.5" fill="#ff0000">602</text>
<text transform="translate(1868.5 2583) rotate(-90)" text-anchor="middle" font-size="47.5" fill="#ff0000">563</text>
<line x1="292.2" y1="2611.5" x2="375.2" y2="2611.5" stroke="#000" stroke-width="9.5" stroke-linecap="round"/>
<text x="389" y="2626.5" text-anchor="start" font-size="47" fill="#7f7f7f" textLength="79.5" lengthAdjust="spacingAndGlyphs">Mlx</text>
<line x1="291" y1="2702.5" x2="376.5" y2="2702.5" stroke="#00b050" stroke-width="7" stroke-linecap="round"/>
<text x="389" y="2717.5" text-anchor="start" font-size="47" fill="#7f7f7f" textLength="190" lengthAdjust="spacingAndGlyphs">HAP-Mlx</text>
<line x1="290.5" y1="2793.5" x2="377" y2="2793.5" stroke="#ff0000" stroke-width="6" stroke-linecap="round"/>
<text x="389" y="2808.5" text-anchor="start" font-size="47" fill="#7f7f7f" textLength="90" lengthAdjust="spacingAndGlyphs">HAP</text>
<text x="173.5" y="3016" text-anchor="middle" font-size="54" fill="#7f7f7f">2000</text>
<text x="638.5" y="3016" text-anchor="middle" font-size="54" fill="#7f7f7f">1600</text>
<text x="1103.5" y="3016" text-anchor="middle" font-size="54" fill="#7f7f7f">1200</text>
<text x="1568.5" y="3016" text-anchor="middle" font-size="54" fill="#7f7f7f">800</text>
<text x="2032.5" y="3016" text-anchor="middle" font-size="54" fill="#7f7f7f">400</text>
<text x="809" y="3112.8" font-size="63" fill="#7f7f7f" textLength="553" lengthAdjust="spacingAndGlyphs">Wavenumbers/ cm</text>
<text x="1365" y="3090.5" font-size="41" fill="#7f7f7f" textLength="34.7" lengthAdjust="spacingAndGlyphs">-1</text>
<text transform="translate(111.4 2547.5) rotate(-90)" font-size="65" fill="#7f7f7f" textLength="570.5" lengthAdjust="spacingAndGlyphs">Transimttance /a.u.</text>
<rect x="1851.8" y="2698.2" width="140.8" height="143.8" fill="none" stroke="#a6a6a6" stroke-width="3.5"/>
<text x="1905.5" y="2783.4" text-anchor="middle" font-size="65" fill="#000" textLength="38" lengthAdjust="spacingAndGlyphs">B</text>
<line x1="401.5" y1="3188.5" x2="401.5" y2="4543" stroke="#d9d9d9" stroke-width="4"/>
<line x1="1258.5" y1="3188.5" x2="1258.5" y2="4543" stroke="#d9d9d9" stroke-width="4"/>
<line x1="186.5" y1="3339" x2="2116" y2="3339" stroke="#d9d9d9" stroke-width="4"/>
<line x1="186.5" y1="3489.5" x2="2116" y2="3489.5" stroke="#d9d9d9" stroke-width="4"/>
<line x1="186.5" y1="3640" x2="2116" y2="3640" stroke="#d9d9d9" stroke-width="4"/>
<line x1="186.5" y1="3791" x2="2116" y2="3791" stroke="#d9d9d9" stroke-width="4"/>
<line x1="186.5" y1="3941.5" x2="2116" y2="3941.5" stroke="#d9d9d9" stroke-width="4"/>
<line x1="186.5" y1="4091.5" x2="2116" y2="4091.5" stroke="#d9d9d9" stroke-width="4"/>
<line x1="186.5" y1="4242" x2="2116" y2="4242" stroke="#d9d9d9" stroke-width="4"/>
<line x1="186.5" y1="4392.5" x2="2116" y2="4392.5" stroke="#d9d9d9" stroke-width="4"/>
<rect x="186.5" y="3188.5" width="1929.5" height="1354.5" fill="none" stroke="#000" stroke-width="4.4"/>
<path d="M186.5 3549 C189.6 3548.7 199.1 3547.5 205 3547.5 C210.9 3548.7 215.1 3556 221 3556 C226.9 3555.2 233.8 3544.7 240 3542.5 C246.2 3542.5 251.6 3543 257.5 3543 C263.4 3542.2 269.1 3538 275 3538 C280.9 3539 285.7 3548 292.5 3549 C299.3 3549 305.2 3545.3 315 3544 C324.8 3542.7 335.6 3542.6 350 3541.5 C364.4 3540.4 383 3538.6 400 3537.5 C417 3536.4 433 3536.3 450 3535 C467 3533.7 488.9 3530.4 500 3530 C511.1 3530 510.6 3530.1 515 3532.5 C519.4 3534.9 522.2 3543.7 526 3544 C529.8 3544 529.2 3537.2 537.5 3534 C545.8 3530.8 555.9 3527.4 575 3525 C594.1 3522.6 633 3520.4 650 3520 C667 3520 666.5 3522.5 675 3522.5 C683.5 3522 689.8 3517.8 700 3517 C710.2 3517 722.2 3517.5 735 3517.5 C747.8 3516.3 764 3511.3 775 3510 C786 3510 792.8 3510 800 3510 C807.2 3510.8 810.7 3515 817.5 3515 C824.3 3514.3 830.2 3509.4 840 3506 C849.8 3502.6 864.8 3497.2 875 3495 C885.2 3493 892.4 3494.7 900 3493 C907.6 3491.3 911.9 3486.5 920 3485 C928.1 3484 940.3 3484 947.5 3484 C954.7 3484.5 958.2 3484 962.5 3488 C966.8 3492.1 969.5 3497.5 972.5 3508 C975.5 3518.5 977.7 3530.1 980 3550 C982.3 3569.9 984.1 3597.8 986 3625 C987.9 3652.2 989 3680.2 991 3710 C993 3739.8 995.5 3778.3 997.5 3800 C999.5 3821.7 1001.1 3829.8 1002.5 3837.5 C1003.9 3845 1004.6 3845 1006 3845 C1007.4 3843.7 1009 3842.8 1011 3830 C1013 3817.2 1015.1 3793.8 1017.5 3770 C1019.9 3746.2 1022.5 3711.2 1025 3690 C1027.5 3668.8 1030.1 3655.4 1032.5 3645 C1034.9 3634.6 1036.5 3631.1 1039 3629 C1041.5 3629 1044.8 3632.5 1047.5 3632.5 C1050.2 3630.5 1051.6 3622.2 1055 3617.5 C1058.4 3612.8 1063.7 3611.8 1067.5 3605 C1071.3 3598.2 1074.1 3586.8 1077.5 3577.5 C1080.9 3568.2 1084.7 3555.3 1087.5 3550 C1090.3 3546.5 1091 3546.5 1094 3546.5 C1097 3547.3 1101.4 3548.5 1105 3555 C1108.6 3561.5 1112 3571.4 1115 3585 C1118 3598.6 1120.4 3620.6 1122.5 3635 C1124.6 3649.4 1126.1 3653.8 1127.5 3670 C1128.9 3686.2 1129.9 3702.8 1131 3730 C1132.1 3757.2 1132.6 3792.6 1134 3830 C1135.4 3867.4 1137.3 3905.8 1139 3950 C1140.7 3994.2 1142.4 4047.5 1144 4090 C1145.6 4132.5 1147.1 4177.4 1148.5 4200 C1149.9 4222.6 1151 4223 1152.5 4223 C1154 4223 1155.8 4223 1157.5 4200 C1159.2 4170.6 1160.8 4096.8 1162.5 4050 C1164.2 4003.2 1165.8 3956.3 1167.5 3925 C1169.2 3893.7 1170.8 3866 1172.5 3866 C1174.2 3866 1175.6 3893.7 1177.5 3925 C1179.4 3956.3 1181.5 4008.3 1183.5 4050 C1185.5 4091.7 1187.2 4147.1 1189 4170 C1190.8 4185 1191.3 4184.1 1194 4185 C1196.7 4185 1201.3 4180.9 1205 4175 C1208.7 4169.1 1212.8 4162.8 1216 4150 C1219.2 4137.2 1221.2 4121.2 1224 4100 C1226.8 4078.8 1229.4 4052.2 1232.5 4025 C1235.6 3997.8 1239.5 3962.1 1242.5 3940 C1245.5 3917.9 1247.2 3909.4 1250 3895 C1252.8 3880.6 1255.6 3867.8 1259 3855 C1262.4 3842.2 1266.4 3834.4 1270 3820 C1273.6 3805.6 1276.6 3786.2 1280 3770 C1283.4 3753.8 1286.6 3737.8 1290 3725 C1293.4 3712.2 1296.2 3705.2 1300 3695 C1303.8 3684.8 1309.3 3673.1 1312.5 3665 C1315.7 3656.9 1317.3 3651.1 1319 3647.5 C1320.7 3644 1320.8 3644 1322.5 3644 C1324.2 3647 1327 3653.8 1329 3665 C1331 3676.2 1332.6 3692.2 1334 3710 C1335.4 3727.8 1336.3 3747.1 1337.5 3770 C1338.7 3792.9 1339.7 3814.4 1341 3845 C1342.3 3875.6 1343.7 3917.7 1345 3950 C1346.3 3982.3 1347.4 4018.3 1348.5 4035 C1349.6 4048 1350.2 4048 1351.5 4048 C1352.8 4047.2 1354.6 4039.9 1356 4030 C1357.4 4020.1 1358.6 3997.5 1360 3990 C1361.4 3986 1362.3 3986 1364 3986 C1365.7 3987.7 1368.1 4000 1370 4000 C1371.9 3999.8 1373.3 3995.2 1375 3985 C1376.7 3974.8 1377.9 3955.3 1380 3940 C1382.1 3924.7 1385.5 3908.6 1387.5 3895 C1389.5 3881.4 1390.7 3871.1 1392 3860 C1393.3 3848.9 1393.6 3841.9 1395 3830 C1396.4 3818.1 1397.9 3802.8 1400 3790 C1402.1 3777.2 1405 3764.3 1407.5 3755 C1410 3745.7 1412.9 3739 1415 3735 C1417.1 3731.5 1417.9 3731.5 1420 3731.5 C1422.1 3733.2 1425.4 3742 1427.5 3745 C1429.6 3748 1430.4 3749 1432.5 3749 C1434.6 3745.6 1437 3733.8 1440 3725 C1443 3716.2 1446.6 3707.2 1450 3697 C1453.4 3686.8 1456.2 3674.2 1460 3665 C1463.8 3655.8 1467 3648.5 1472.5 3643 C1478 3637.5 1487.4 3636.6 1492.5 3632.5 C1497.6 3628.4 1499.1 3621.1 1502.5 3619 C1505.9 3619 1509.1 3620 1512.5 3620 C1515.9 3616.8 1518.2 3602.7 1522.5 3600 C1526.8 3600 1532.4 3604 1537.5 3604 C1542.6 3603 1548.7 3594.3 1552.5 3594 C1556.3 3594 1557.5 3596.4 1560 3602.5 C1562.5 3608.6 1565.5 3617.7 1567.5 3630 C1569.5 3642.3 1570.2 3654.6 1571.5 3675 C1572.8 3695.4 1574 3721.9 1575 3750 C1576 3778.1 1576.5 3797.5 1577.5 3840 C1578.5 3882.5 1579.7 3947.3 1581 4000 C1582.3 4052.7 1583.8 4102.4 1585 4150 C1586.2 4197.6 1586.9 4246.5 1588 4280 C1589.1 4313.5 1590.1 4347 1591.5 4347 C1592.9 4347 1594.1 4313.5 1596 4280 C1597.9 4246.5 1600.3 4197.6 1602.5 4150 C1604.7 4102.4 1607 4045.9 1609 4000 C1611 3954.1 1612.6 3907.2 1614 3880 C1615.4 3852.8 1616.1 3852.8 1617.5 3840 C1618.9 3827.2 1621.2 3811.5 1622.5 3805 C1623.8 3801.5 1623.6 3801.5 1625 3801.5 C1626.4 3802.3 1628.9 3810 1631 3810 C1633.1 3807.2 1635.4 3793.1 1637.5 3785 C1639.6 3776.9 1641.5 3762.5 1643.5 3762.5 C1645.5 3763.3 1647 3780.7 1649 3790 C1651 3799.3 1652.5 3811.6 1655 3817.5 C1657.5 3823.4 1661.6 3818.6 1664 3825 C1666.4 3831.4 1667.3 3838 1669 3855 C1670.7 3872 1672.3 3897.8 1674 3925 C1675.7 3952.2 1677.3 3994.1 1679 4015 C1680.7 4035.9 1682.3 4043.8 1684 4048 C1685.7 4048 1687.6 4048 1689 4040 C1690.4 4031.8 1691.2 4008.7 1692.5 4000 C1693.8 3991.3 1695.1 3989 1696.5 3989 C1697.9 3990.7 1699.6 4000.1 1701 4010 C1702.4 4019.9 1703.7 4040 1705 4047 C1706.3 4051 1707.2 4051 1708.5 4051 C1709.8 4047.3 1711 4046.4 1712.5 4025 C1714 4003.6 1716.1 3951.3 1717.5 3925 C1718.9 3898.7 1719.7 3887.8 1721 3870 C1722.3 3852.2 1723.3 3834.6 1725 3820 C1726.7 3805.4 1729.1 3784 1731 3784 C1732.9 3784 1734.5 3805.4 1736 3820 C1737.5 3834.6 1738.6 3847.9 1740 3870 C1741.4 3892.1 1742.5 3910.9 1744 3950 C1745.5 3989.1 1747.3 4050.7 1749 4100 C1750.7 4149.3 1752.3 4199.2 1754 4240 C1755.7 4280.8 1757.1 4305.3 1759 4340 C1760.9 4374.7 1763.1 4433.8 1765 4444 C1766.9 4444 1768.3 4416 1770 4400 C1771.7 4384 1773.7 4360.2 1775 4350 C1776.3 4340 1776 4343.4 1777.5 4340 C1779 4336.6 1781.9 4339.4 1784 4330 C1786.1 4320.6 1788.1 4307.1 1790 4285 C1791.9 4262.9 1792.9 4233.1 1795 4200 C1797.1 4166.9 1799.5 4125.7 1802.5 4090 C1805.5 4054.3 1809.1 4019.8 1812.5 3990 C1815.9 3960.2 1819.5 3934.6 1822.5 3915 C1825.5 3895.4 1828 3883 1830 3875 C1832 3868 1832.3 3868 1834 3868 C1835.7 3869.7 1837.7 3876.6 1840 3885 C1842.3 3893.4 1845.4 3909 1847.5 3917.5 C1849.6 3926 1850.5 3922.7 1852.5 3935 C1854.5 3947.3 1857 3978.4 1859 3990 C1861 4001.6 1862.1 4003 1864 4003 C1865.9 4001.3 1867.7 3998.4 1870 3980 C1872.3 3961.6 1875 3920.5 1877.5 3895 C1880 3869.5 1882.5 3848.7 1885 3830 C1887.5 3811.3 1890 3794.5 1892.5 3785 C1895 3775.5 1897 3776.7 1900 3774 C1903 3771.3 1907.3 3769 1910 3769 C1912.7 3770.4 1914.5 3776.7 1916 3782 C1917.5 3787.3 1917.4 3782 1918.8 3800 C1920.1 3826.9 1922.3 3890.7 1923.8 3940 C1925.2 3989.3 1926.3 4039 1927.5 4090 C1928.7 4141 1929.3 4193.4 1931 4240 C1932.7 4286.6 1935.3 4353.8 1937.5 4364 C1939.7 4364 1942.3 4321.1 1943.8 4300 C1945.2 4278.9 1944.9 4261.2 1946 4240 C1947.1 4218.8 1948.3 4194.6 1950 4175 C1951.7 4155.4 1954.1 4144.1 1956 4125 C1957.9 4105.9 1959.7 4079.5 1961 4062.5 C1962.3 4045.5 1962.6 4034.8 1963.8 4025 C1964.9 4015.2 1966.3 4005 1967.5 4005 C1968.7 4005 1969.7 4010.6 1971 4025 C1972.3 4039.4 1973.7 4064.5 1975 4090 C1976.3 4115.5 1977.7 4147.8 1978.8 4175 C1979.8 4202.2 1980.3 4233.5 1981 4250 C1981.7 4266.5 1982.2 4272 1983 4272 C1983.8 4272 1985 4262.2 1986 4250 C1987 4237.8 1987.9 4214.9 1988.8 4200 C1989.6 4185.1 1990.2 4170.8 1991 4162.5 C1991.8 4154.2 1992.7 4151 1993.8 4151 C1994.8 4153.1 1996 4159.9 1997 4175 C1998 4190.1 1998.7 4220.9 1999.5 4240 C2000.3 4259.1 2001.2 4278 2002 4287.5 C2002.8 4296 2003.1 4296 2004 4296 C2004.9 4293.9 2006.3 4287.1 2007.5 4275 C2008.7 4262.9 2009.6 4250.5 2011 4225 C2012.4 4199.5 2014.3 4154.8 2016 4125 C2017.7 4095.2 2019.5 4067.8 2021 4050 C2022.5 4032.2 2023.8 4025.8 2025 4020 C2026.2 4016 2026.7 4016 2028 4016 C2029.3 4019 2031.1 4024.9 2032.5 4037.5 C2033.9 4050.1 2034.6 4073 2036 4090 C2037.4 4107 2039.5 4123.9 2041 4137.5 C2042.5 4151.1 2043.8 4162.8 2045 4170 C2046.2 4177.2 2046.7 4180 2048 4180 C2049.3 4176.6 2051.1 4167.9 2052.5 4150 C2053.9 4132.1 2054.7 4096.2 2056 4075 C2057.3 4053.8 2058.7 4034.8 2060 4025 C2061.3 4017.5 2062.3 4017.5 2063.8 4017.5 C2065.2 4019.6 2067.3 4025.6 2068.8 4037.5 C2070.2 4049.4 2071.4 4077.9 2072.5 4087.5 C2073.6 4094 2074.2 4094 2075.5 4094 C2076.8 4091.9 2078.4 4088.9 2080 4075 C2081.6 4061.1 2083.3 4033.8 2085 4012.5 C2086.7 3991.2 2088.1 3968.3 2090 3950 C2091.9 3931.7 2093.9 3916.1 2096 3905 C2098.1 3893.9 2099.9 3892.7 2102.5 3885 C2105.1 3877.3 2108.7 3865.9 2111 3860 C2113.3 3854.1 2115.2 3851.7 2116 3850" fill="none" stroke="#000" stroke-width="11.2" stroke-linejoin="round" stroke-linecap="butt"/>
<path d="M186.5 3364 C189.2 3363.7 196.8 3362.5 202.5 3362.5 C208.2 3363.3 213.2 3369 220 3369 C226.8 3369 237.4 3363.2 242.5 3362.5 C247.6 3362.5 246.6 3365 250 3365 C253.4 3364.4 259.3 3359.5 262.5 3359 C265.7 3359 266.9 3361.9 269 3362 C271.1 3362 271.4 3359.5 275 3359.5 C278.6 3359.8 283.2 3362.9 290 3364 C296.8 3365.1 304.8 3365.8 315 3366 C325.2 3366 327.1 3365 350 3365 C372.9 3365 407.5 3366 450 3366 C492.5 3366 557.5 3365 600 3365 C642.5 3365 661.8 3365.3 700 3366 C738.2 3366.7 791 3367.7 825 3369 C859 3370.3 878.8 3371.6 900 3373.5 C921.2 3375.4 936.4 3378.9 950 3380 C963.6 3380 972.4 3380 980 3380 C987.6 3381 988.2 3382.2 995 3386 C1001.8 3389.8 1013.2 3399.1 1020 3402.5 C1026.8 3405.9 1029 3406 1035 3406 C1041 3404.9 1046.5 3398.3 1055 3396 C1063.5 3393.7 1074.8 3394.8 1085 3392.5 C1095.2 3390.2 1107.3 3384.2 1115 3382.5 C1122.7 3382.5 1124.5 3382.5 1130 3382.5 C1135.5 3384.6 1140.7 3394.2 1147.5 3395 C1154.3 3395 1164 3387.5 1170 3387.5 C1176 3387.5 1177.4 3389.5 1182.5 3395 C1187.6 3400.5 1194.5 3412.5 1200 3420 C1205.5 3427.5 1210.9 3435.2 1215 3439 C1219.1 3442.5 1220.6 3442.5 1224 3442.5 C1227.4 3442 1231 3439.8 1235 3436 C1239 3432.2 1242.4 3424.9 1247.5 3420 C1252.6 3415.1 1258.6 3410.8 1265 3407 C1271.4 3403.2 1276.9 3400.6 1285 3397.5 C1293.1 3394.4 1305.7 3389.9 1312.5 3388.5 C1319.3 3388.5 1320.3 3388.5 1325 3389 C1329.7 3390.5 1334.9 3394.2 1340 3397.5 C1345.1 3400.8 1349 3406.8 1355 3408.5 C1361 3408.5 1368.2 3408.5 1375 3407.5 C1381.8 3405.6 1388.2 3400.1 1395 3397.5 C1401.8 3394.9 1406.5 3393.2 1415 3392.5 C1423.5 3392.5 1437.3 3392.5 1445 3393.5 C1452.7 3395.6 1454.5 3400.5 1460 3405 C1465.5 3409.5 1472.4 3420 1477.5 3420 C1482.6 3420 1485.3 3409.2 1490 3405 C1494.7 3400.8 1499 3398 1505 3395 C1511 3392 1517.3 3389.6 1525 3387.5 C1532.7 3385.4 1541.9 3383.6 1550 3382.5 C1558.1 3381.4 1565.7 3381 1572.5 3381 C1579.3 3382.1 1583.6 3388.3 1590 3389 C1596.4 3389 1604.9 3385 1610 3385 C1615.1 3385.2 1617 3385.8 1620 3390 C1623 3394.2 1624.1 3403.6 1627.5 3410 C1630.9 3416.4 1636.2 3427.1 1640 3427.5 C1643.8 3427.5 1646.6 3416.2 1650 3412.5 C1653.4 3408.8 1655.3 3406.6 1660 3406 C1664.7 3406 1671.1 3409 1677.5 3409 C1683.9 3407.6 1691.1 3400.1 1697.5 3397.5 C1703.9 3394.9 1709.3 3395 1715 3393.5 C1720.7 3392 1725 3388.5 1731 3388.5 C1737 3388.8 1743.4 3393.3 1750 3395 C1756.6 3396.7 1764 3397.7 1770 3398.5 C1776 3399.3 1779 3398.5 1785 3400 C1791 3402.6 1798.2 3412.5 1805 3414 C1811.8 3414 1816.7 3409.9 1825 3409 C1833.3 3408.5 1844 3408.5 1854 3408.5 C1864 3409.1 1876.3 3411 1884 3412.5 C1891.7 3414 1893.9 3414.7 1899 3417.5 C1904.1 3420.3 1908 3427.7 1914 3429 C1920 3429 1928.5 3426.5 1934 3425 C1939.5 3423.5 1943.1 3420 1946.5 3420 C1949.9 3420 1951 3420 1954 3425 C1957 3430.1 1961 3443.2 1964 3450 C1967 3456.8 1969 3461.6 1971.5 3465 C1974 3468.4 1975.6 3469.8 1979 3470 C1982.4 3470 1987.2 3466 1991.5 3466 C1995.8 3466 1996.8 3469.5 2004 3470 C2011.2 3470 2027.2 3469 2034 3469 C2040.8 3471.1 2040.6 3478.1 2044 3482.5 C2047.4 3486.9 2051 3488.6 2054 3495 C2057 3501.4 2058.9 3509.8 2061.5 3520 C2064.1 3530.2 2066.9 3544.8 2069 3555 C2071.1 3565.2 2071.4 3565.8 2074 3580 C2076.6 3594.2 2079.6 3616.7 2084 3638.5 C2088.4 3660.3 2094.1 3682.6 2099.7 3708 C2105.3 3733.4 2114.1 3774.4 2117 3788" fill="none" stroke="#00b050" stroke-width="8" stroke-linejoin="round" stroke-linecap="butt"/>
<path d="M186.5 3236 C188.8 3236.7 195.3 3238.6 200 3240 C204.7 3241.4 208.9 3243.7 214 3244 C219.1 3244 226 3243.7 230 3242 C234 3240.3 233.2 3235 237.5 3234 C241.8 3234 249.5 3236 255 3236 C260.5 3235.7 264.1 3232 270 3232 C275.9 3232.3 276.4 3237 290 3238 C303.6 3238 331.3 3238 350 3238 C368.7 3238.5 374.5 3240.7 400 3241 C425.5 3241 466 3240 500 3240 C534 3240 566 3240.3 600 3241 C634 3241.7 670.2 3243 700 3244 C729.8 3245 753.8 3245.8 775 3247 C796.2 3248.2 808 3248.8 825 3251 C842 3253.2 859.7 3257.4 875 3260 C890.3 3262.6 903.1 3264.5 915 3266.5 C926.9 3268.5 934.8 3270.5 945 3271.5 C955.2 3272.5 961.4 3272.5 975 3272.5 C988.6 3272.1 1010.5 3270.6 1025 3269 C1039.5 3267.4 1047.2 3264.5 1060 3263 C1072.8 3261.5 1088.1 3260.7 1100 3260 C1111.9 3259.3 1118.5 3259 1130 3259 C1141.5 3259 1157.3 3259 1167.5 3260 C1177.7 3261.2 1180.2 3262.8 1190 3266 C1199.8 3269.2 1214 3276.8 1225 3279 C1236 3279 1246.5 3279 1255 3279 C1263.5 3279.6 1269.9 3282 1275 3282.5 C1280.1 3282.5 1278.2 3282.5 1285 3282 C1291.8 3280.7 1305.7 3275.8 1315 3275 C1324.3 3275 1333.2 3275.5 1340 3277.5 C1346.8 3279.5 1344.8 3285.7 1355 3286.5 C1365.2 3286.5 1388.1 3282.5 1400 3282.5 C1411.9 3282.5 1415.7 3286.5 1425 3286.5 C1434.3 3286.2 1445.7 3282.3 1455 3281 C1464.3 3279.7 1472.3 3281 1480 3279 C1487.7 3276.4 1493.2 3269.4 1500 3266 C1506.8 3262.6 1511.5 3261 1520 3259 C1528.5 3257 1538.1 3255 1550 3254 C1561.9 3253 1579 3253 1590 3253 C1601 3253.2 1606.5 3253.4 1615 3255 C1623.5 3256.6 1632.3 3262 1640 3262.5 C1647.7 3262.5 1649.8 3259.4 1660 3258 C1670.2 3256.6 1688.1 3254.8 1700 3254 C1711.9 3253.5 1719.8 3253.5 1730 3253.5 C1740.2 3253.9 1750.7 3254.2 1760 3256.5 C1769.3 3258.8 1776.7 3263.4 1785 3267 C1793.3 3270.6 1799.8 3274.6 1809 3277.5 C1818.2 3280.4 1829.7 3281.7 1839 3284 C1848.3 3286.3 1856.8 3289 1864 3291 C1871.2 3293 1874.7 3296 1881.5 3296 C1888.3 3295.8 1895.9 3292.2 1904 3290 C1912.1 3287.8 1922.2 3284.4 1929 3283 C1935.8 3282 1939.8 3282 1944 3282 C1948.2 3282.8 1949.8 3284 1954 3287.5 C1958.2 3291 1963.9 3298.2 1969 3302.5 C1974.1 3306.8 1978 3306.6 1984 3312.5 C1990 3318.4 1997.2 3331.1 2004 3337.5 C2010.8 3343.9 2018.5 3347 2024 3350 C2029.5 3353 2032.7 3352.3 2036.5 3355 C2040.3 3357.7 2043.1 3360.1 2046.5 3366 C2049.9 3371.9 2053.5 3380 2056.5 3390 C2059.5 3400 2061.9 3411.4 2064 3425 C2066.1 3438.6 2067.1 3453 2069 3470 C2070.9 3487 2072.9 3506.3 2075 3525 C2077.1 3543.7 2078.9 3559.6 2081.5 3580 C2084.1 3600.4 2086.9 3617.8 2090 3645 C2093.1 3672.2 2096.5 3707.8 2099.7 3740 C2102.9 3772.2 2106.1 3804.8 2109 3834.5 C2111.9 3864.2 2115.6 3901.3 2117 3915" fill="none" stroke="#ff0000" stroke-width="7.7" stroke-linejoin="round" stroke-linecap="butt"/>
<line x1="230.1" y1="4543" x2="230.1" y2="4558" stroke="#000" stroke-width="4"/>
<line x1="401.5" y1="4543" x2="401.5" y2="4558" stroke="#000" stroke-width="4"/>
<line x1="572.9" y1="4543" x2="572.9" y2="4558" stroke="#000" stroke-width="4"/>
<line x1="744.3" y1="4543" x2="744.3" y2="4558" stroke="#000" stroke-width="4"/>
<line x1="915.7" y1="4543" x2="915.7" y2="4558" stroke="#000" stroke-width="4"/>
<line x1="1087.1" y1="4543" x2="1087.1" y2="4558" stroke="#000" stroke-width="4"/>
<line x1="1258.5" y1="4543" x2="1258.5" y2="4558" stroke="#000" stroke-width="4"/>
<line x1="1429.9" y1="4543" x2="1429.9" y2="4558" stroke="#000" stroke-width="4"/>
<line x1="1601.3" y1="4543" x2="1601.3" y2="4558" stroke="#000" stroke-width="4"/>
<line x1="1772.7" y1="4543" x2="1772.7" y2="4558" stroke="#000" stroke-width="4"/>
<line x1="1944.1" y1="4543" x2="1944.1" y2="4558" stroke="#000" stroke-width="4"/>
<line x1="2115.5" y1="4543" x2="2115.5" y2="4558" stroke="#000" stroke-width="4"/>
<line x1="304.8" y1="4245" x2="391.2" y2="4245" stroke="#000" stroke-width="9.5" stroke-linecap="round"/>
<text x="405" y="4261" text-anchor="start" font-size="50" fill="#7f7f7f" textLength="82.5" lengthAdjust="spacingAndGlyphs">Mlx</text>
<line x1="303.5" y1="4339" x2="392.5" y2="4339" stroke="#00b050" stroke-width="7" stroke-linecap="round"/>
<text x="405" y="4355" text-anchor="start" font-size="50" fill="#7f7f7f" textLength="197.5" lengthAdjust="spacingAndGlyphs">HAP-Mlx</text>
<line x1="303" y1="4433" x2="393" y2="4433" stroke="#ff0000" stroke-width="6" stroke-linecap="round"/>
<text x="405" y="4449" text-anchor="start" font-size="50" fill="#7f7f7f" textLength="92.5" lengthAdjust="spacingAndGlyphs">HAP</text>
<text x="401.5" y="4644.5" text-anchor="middle" font-size="55" fill="#7f7f7f">1900</text>
<text x="1259.5" y="4644.5" text-anchor="middle" font-size="55" fill="#7f7f7f">1500</text>
<text x="2116" y="4644.5" text-anchor="middle" font-size="55" fill="#7f7f7f">1100</text>
<text x="845.5" y="4746.8" font-size="64" fill="#7f7f7f" textLength="572.1" lengthAdjust="spacingAndGlyphs">Wavenumbers/ cm</text>
<text x="1424.6" y="4725" font-size="42" fill="#7f7f7f" textLength="35.1" lengthAdjust="spacingAndGlyphs">-1</text>
<text transform="translate(117 4178.6) rotate(-90)" font-size="66" fill="#7f7f7f" textLength="593.6" lengthAdjust="spacingAndGlyphs">Transimttance /a.u.</text>
<rect x="1951.8" y="4386.8" width="134.1" height="131.1" fill="#fff" stroke="#bcbcbc" stroke-width="3.6"/>
<text x="2005" y="4474" text-anchor="middle" font-size="65" fill="#000" textLength="40" lengthAdjust="spacingAndGlyphs">C</text>
</svg>
</body></html>
